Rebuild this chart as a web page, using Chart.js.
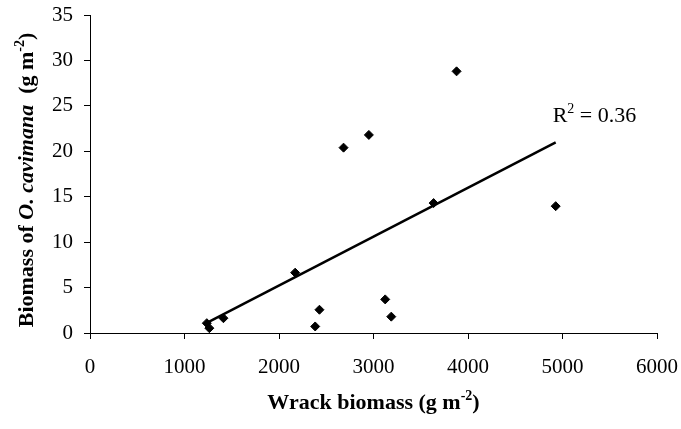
<!DOCTYPE html>
<html>
<head>
<meta charset="utf-8">
<script src="https://cdn.jsdelivr.net/npm/chart.js@4.4.1/dist/chart.umd.min.js"></script>
<style>
  body { margin: 0; background: #fff; }
  #wrap { width: 681px; height: 429px; position: relative; }
</style>
</head>
<body>
<div id="wrap"><canvas id="scatterChart"></canvas></div>
<script>
// Wrack biomass vs O. cavimana biomass
const wrackBiomass = [1236, 1263, 1412, 2171, 2383, 2428, 2683, 2951, 3124, 3188, 3636, 3879, 4928];
const cavimanaBiomass = [1.08, 0.53, 1.63, 6.64, 0.72, 2.56, 20.4, 21.8, 3.7, 1.8, 14.3, 28.8, 13.96];
const xTickValues = [0, 1000, 2000, 3000, 4000, 5000, 6000];
const yTickValues = [0, 5, 10, 15, 20, 25, 30, 35];
const r2Label = "0.36";

// least squares trendline over the data range
var n = wrackBiomass.length;
var mx = wrackBiomass.reduce((a, b) => a + b, 0) / n;
var my = cavimanaBiomass.reduce((a, b) => a + b, 0) / n;
var sxy = 0, sxx = 0;
for (var i = 0; i < n; i++) {
  sxy += (wrackBiomass[i] - mx) * (cavimanaBiomass[i] - my);
  sxx += (wrackBiomass[i] - mx) * (wrackBiomass[i] - mx);
}
var slope = sxy / sxx;
var intercept = my - slope * mx;
var xMin = Math.min(...wrackBiomass), xMax = Math.max(...wrackBiomass);
var trendPoints = [
  { x: xMin, y: intercept + slope * xMin },
  { x: xMax, y: intercept + slope * xMax }
];

const SERIF = "'Liberation Serif', 'Times New Roman', serif";

// draw a row of text pieces (for superscripts / italics)
function drawRuns(ctx, runs, x, y, align) {
  var total = 0;
  runs.forEach(function(r) { ctx.font = r.font; total += ctx.measureText(r.text).width; });
  var cx = align === "center" ? x - total / 2 : x;
  ctx.textAlign = "left";
  ctx.textBaseline = "alphabetic";
  runs.forEach(function(r) {
    ctx.font = r.font;
    ctx.fillText(r.text, cx, y - (r.dy || 0));
    cx += ctx.measureText(r.text).width;
  });
}

const labelsPlugin = {
  id: "labelsPlugin",
  afterDraw: function(chart) {
    var ctx = chart.ctx;
    var area = chart.chartArea;
    ctx.save();
    ctx.fillStyle = "#000";

    // x axis title
    drawRuns(ctx, [
      { text: "Wrack biomass (g m", font: "bold 22px " + SERIF },
      { text: "-2", font: "bold 14px " + SERIF, dy: 9 },
      { text: ")", font: "bold 22px " + SERIF }
    ], (area.left + area.right) / 2, 409, "center");

    // y axis title
    ctx.save();
    ctx.translate(33, 180);
    ctx.rotate(-Math.PI / 2);
    drawRuns(ctx, [
      { text: "Biomass of ", font: "bold 22px " + SERIF },
      { text: "O. cavimana", font: "italic bold 22px " + SERIF },
      { text: "  (g m", font: "bold 22px " + SERIF },
      { text: "-2", font: "bold 14px " + SERIF, dy: 9 },
      { text: ")", font: "bold 22px " + SERIF }
    ], 0, 0, "center");
    ctx.restore();

    // R squared near end of trendline
    var xs = chart.scales.x, ys = chart.scales.y;
    var ex = xs.getPixelForValue(trendPoints[1].x);
    var ey = ys.getPixelForValue(trendPoints[1].y);
    drawRuns(ctx, [
      { text: "R", font: "22px " + SERIF },
      { text: "2", font: "14px " + SERIF, dy: 9 },
      { text: " = " + r2Label, font: "22px " + SERIF }
    ], ex - 3, ey - 20, "left");

    ctx.restore();
  }
};

var ctx = document.getElementById("scatterChart").getContext("2d");

var myChart = new Chart(ctx, {
  type: "scatter",
  data: {
    datasets: [
      {
        data: wrackBiomass.map((x, i) => ({ x: x, y: cavimanaBiomass[i] })),
        pointStyle: "rectRot",
        pointRadius: 4.5,
        pointBorderWidth: 1,
        pointBackgroundColor: "#000",
        pointBorderColor: "#000"
      },
      {
        data: trendPoints,
        showLine: true,
        borderColor: "#000",
        borderWidth: 2.5,
        pointRadius: 0
      }
    ]
  },
  options: {
    responsive: true,
    maintainAspectRatio: false,
    animation: false,
    layout: { padding: { top: 15, right: 24, left: 0, bottom: 0 } },
    plugins: {
      legend: { display: false },
      tooltip: { enabled: false }
    },
    scales: {
      x: {
        type: "linear",
        min: 0,
        max: 6000,
        afterBuildTicks: function(scale) { scale.ticks = xTickValues.map(v => ({ value: v })); },
        afterFit: function(scale) {
          scale.height = 96;
          scale.paddingLeft = 0;
          scale.paddingRight = 0;
        },
        grid: { drawOnChartArea: false, drawTicks: true, tickLength: 6, color: "#000" },
        border: { color: "#000", width: 1 },
        ticks: {
          color: "#000", padding: 16, font: { family: SERIF, size: 21 },
          callback: function(v) { return String(v); }
        }
      },
      y: {
        min: 0,
        max: 35,
        afterBuildTicks: function(scale) { scale.ticks = yTickValues.map(v => ({ value: v })); },
        afterFit: function(scale) {
          scale.width = 90;
          scale.paddingTop = 0;
          scale.paddingBottom = 0;
        },
        grid: { drawOnChartArea: false, drawTicks: true, tickLength: 6, color: "#000" },
        border: { color: "#000", width: 1 },
        ticks: {
          color: "#000", padding: 11, font: { family: SERIF, size: 21 },
          callback: function(v) { return String(v); }
        }
      }
    }
  },
  plugins: [labelsPlugin]
});
</script>
</body>
</html>
